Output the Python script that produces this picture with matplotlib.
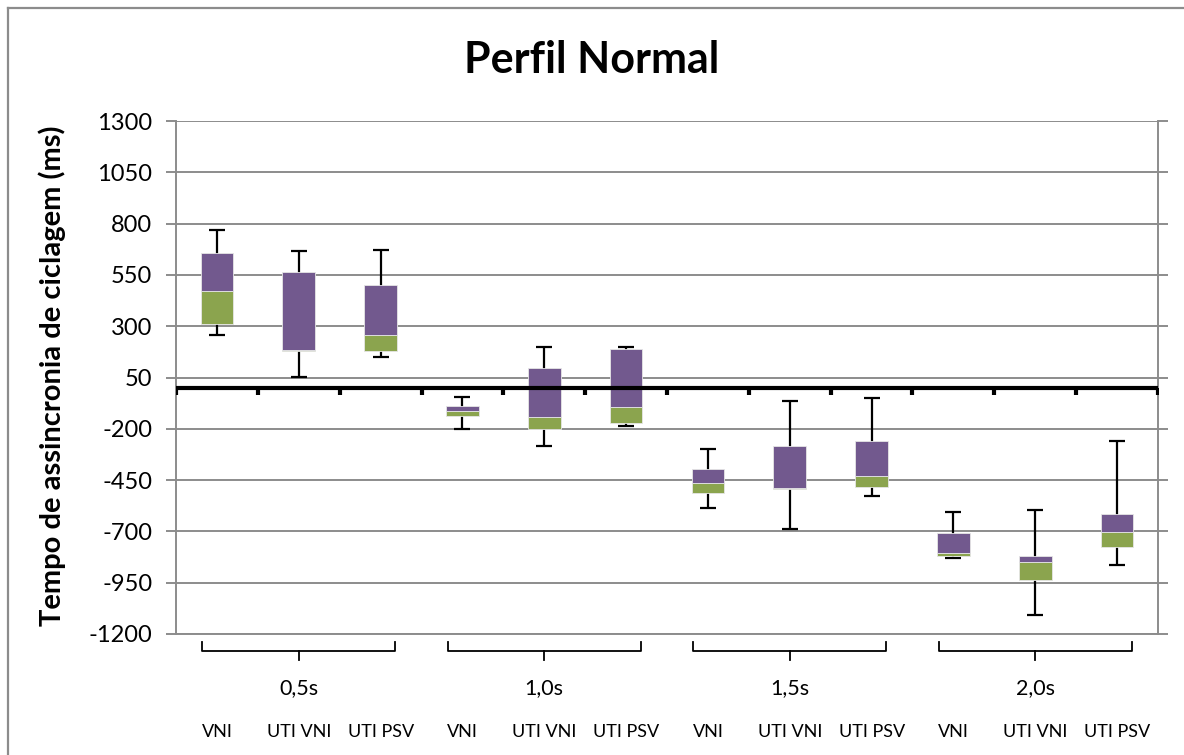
import numpy as np
import matplotlib
matplotlib.use('Agg')
import matplotlib.pyplot as plt
import matplotlib.transforms as mtransforms
from matplotlib.lines import Line2D
from matplotlib.markers import TICKDOWN

plt.rcParams['font.family'] = ['Lato', 'DejaVu Sans']
plt.rcParams['axes.unicode_minus'] = False

# categorias
grupos = ['0,5s', '1,0s', '1,5s', '2,0s']
modos = ['VNI', 'UTI VNI', 'UTI PSV']

# valores (ms), na ordem grupo x modo
minimo = [259, 51, 148, -199, -285, -184, -586, -687, -527, -831, -1107, -865]
q1 = [309, 180, 178, -139, -199, -170, -514, -491, -485, -818, -935, -776]
mediana = [472, 186, 259, -113, -144, -95, -462, -487, -428, -807, -850, -703]
q3 = [655, 564, 499, -90, 96, 188, -397, -284, -259, -706, -821, -614]
maximo = [769, 665, 671, -43, 200, 200, -300, -63, -51, -607, -597, -259]

roxo = '#72598e'
verde = '#8ba44e'
cinza = '#8c8c8c'

fig = plt.figure(figsize=(11.84, 7.55), dpi=100)
ax = fig.add_axes([176 / 1184, 1 - 634 / 755, (1158 - 176) / 1184, (634 - 121) / 755])

x = np.arange(len(mediana))
q1a = np.array(q1)
meda = np.array(mediana)
q3a = np.array(q3)

# bigodes (atras das caixas)
ax.errorbar(x, meda, yerr=[meda - np.array(minimo), np.array(maximo) - meda],
            fmt='none', ecolor='black', elinewidth=1.6, capsize=6, capthick=1.6, zorder=2)

# caixas: verde (Q1-mediana) e roxo (mediana-Q3)
ax.bar(x, meda - q1a, bottom=q1a, width=0.4, color=verde, edgecolor='#e6e6e6', linewidth=0.6, zorder=3)
ax.bar(x, q3a - meda, bottom=meda, width=0.4, color=roxo, edgecolor='#e6e6e6', linewidth=0.6, zorder=3)

# eixo das categorias em zero
ax.axhline(0, color='black', lw=3, zorder=4)
fronteiras = np.arange(len(mediana) + 1) - 0.5
ax.plot(fronteiras, np.zeros_like(fronteiras), linestyle='none', marker=TICKDOWN,
        markersize=5, mew=3, color='black', zorder=4)

ax.set_xlim(-0.5, len(mediana) - 0.5)
ax.set_ylim(-1200, 1300)
ax.set_yticks(np.arange(-1200, 1301, 250))
ax.yaxis.grid(True, color=cinza, lw=1.4)
ax.set_axisbelow(True)
ax.set_xticks([])
ax.tick_params(axis='y', direction='out', length=7, width=1.4, color=cinza,
               labelsize=17, pad=10, right=True)
for s in ax.spines.values():
    s.set_color(cinza)
    s.set_linewidth(1.4)
ax.spines['top'].set_visible(False)

fig.text(52 / 1184, 1 - 376 / 755, 'Tempo de assincronia de ciclagem (ms)', rotation=90,
         ha='center', va='center', fontsize=21, fontweight='bold')
fig.text(0.5, 1 - 60 / 755, 'Perfil Normal', ha='center', va='center', fontsize=31, fontweight='bold')

# rotulos de categoria em dois niveis
trans = mtransforms.blended_transform_factory(ax.transData, fig.transFigure)
for i, m in enumerate(modos * len(grupos)):
    ax.text(i, 1 - 732 / 755, m, transform=trans, ha='center', va='center', fontsize=13)
for g, nome in enumerate(grupos):
    c = 3 * g + 1
    ax.text(c, 1 - 688 / 755, nome, transform=trans, ha='center', va='center', fontsize=15.5)
    y_top, y_mid, y_bot = 1 - 642 / 755, 1 - 651 / 755, 1 - 660 / 755
    a, b = c - 1.18, c + 1.18
    ax.plot([a, a, b, b], [y_top, y_mid, y_mid, y_top], color='black', lw=1.3,
            transform=trans, clip_on=False)
    ax.plot([c, c], [y_mid, y_bot], color='black', lw=1.3, transform=trans, clip_on=False)

# moldura externa (cortada a direita e embaixo)
fig.add_artist(Line2D([8 / 1184, 8 / 1184], [0, 1 - 8 / 755], color=cinza, lw=1.6, transform=fig.transFigure))
fig.add_artist(Line2D([8 / 1184, 1], [1 - 8 / 755, 1 - 8 / 755], color=cinza, lw=1.6, transform=fig.transFigure))

fig.savefig('out.png', dpi=100)
